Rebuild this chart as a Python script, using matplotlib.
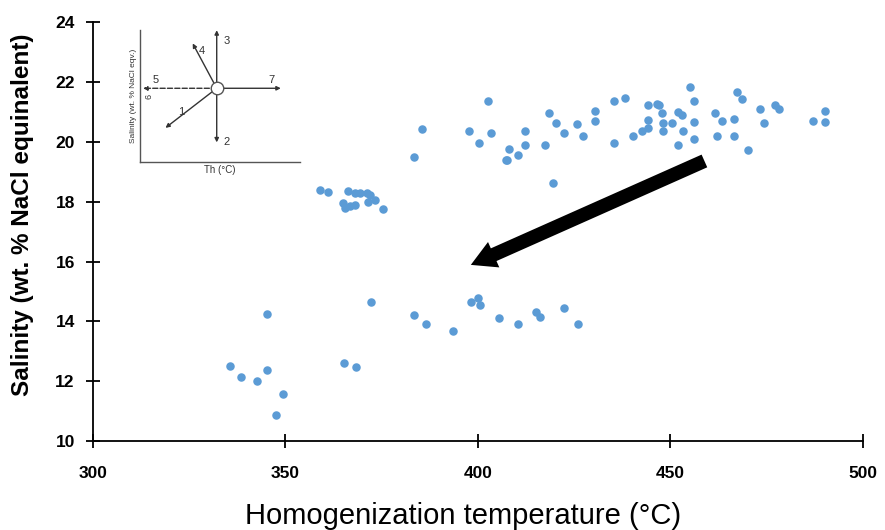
import matplotlib
matplotlib.use('Agg')
import matplotlib.pyplot as plt

plt.rcParams['font.family'] = ['Liberation Sans', 'DejaVu Sans']

# homogenization temperature (°C) and salinity (wt. % NaCl eq.)
th = [335.6, 338.4, 342.6, 345.2, 345.2, 347.5, 349.4, 365.2, 368.3, 372.2,
      383.4, 386.6, 393.6, 398.3, 400.1, 400.5, 405.6, 410.5, 415.1, 416.1, 422.3, 426.1,
      359.0, 361.1, 366.3, 368.1, 369.4, 371.1, 372.0, 365.0, 365.5, 366.8, 368.1,
      371.5, 373.2, 375.4, 383.4,
      385.4, 402.5, 397.7, 403.3, 400.4, 408.1, 407.6, 410.5, 407.3, 412.2, 412.2,
      417.4, 418.4, 420.2, 422.3, 419.4, 425.8, 427.3, 430.3, 430.3, 435.3, 438.2,
      435.3, 440.2, 442.5, 444.2, 444.2, 444.2, 446.4, 447.1, 447.7, 448.1, 448.1,
      450.3, 452.0, 452.9, 453.3, 452.0, 455.1, 456.1, 456.1, 456.1, 461.6, 463.3,
      462.2, 466.4, 466.4, 467.2, 468.5, 470.2, 473.2, 474.3, 477.1, 478.3, 487.0,
      490.2, 490.2]
salinity = [12.50, 12.14, 12.00, 12.37, 14.24, 10.87, 11.57, 12.60, 12.47, 14.64,
            14.22, 13.90, 13.69, 14.63, 14.77, 14.54, 14.12, 13.90, 14.32, 14.15, 14.45, 13.90,
            18.39, 18.33, 18.36, 18.28, 18.30, 18.30, 18.22, 17.94, 17.78, 17.85, 17.88,
            17.99, 18.05, 17.74, 19.50,
            20.43, 21.37, 20.36, 20.29, 19.97, 19.75, 19.41, 19.57, 19.39, 20.37, 19.89,
            19.89, 20.95, 20.64, 20.29, 18.63, 20.61, 20.21, 21.04, 20.71, 21.37, 21.46,
            19.97, 20.21, 20.36, 20.45, 20.72, 21.23, 21.28, 21.23, 20.97, 20.64, 20.36,
            20.64, 21.00, 20.89, 20.36, 19.89, 21.84, 21.37, 20.67, 20.11, 20.95, 20.71,
            20.21, 20.21, 20.78, 21.67, 21.45, 19.72, 21.09, 20.64, 21.23, 21.09, 20.71,
            21.04, 20.67]

x_ticks = [300, 350, 400, 450, 500]
y_ticks = [10, 12, 14, 16, 18, 20, 22, 24]

fig = plt.figure(figsize=(8.85, 5.3), dpi=100)
ax = fig.add_axes([0.105, 0.168, 0.870, 0.790])

ax.scatter(th, salinity, s=26, color='#5b9bd5', zorder=3)

ax.set_xlim(300, 500)
ax.set_ylim(10, 24)
ax.set_xticks(x_ticks)
ax.set_yticks(y_ticks)
for side in ['top', 'right']:
    ax.spines[side].set_visible(False)
for side in ['left', 'bottom']:
    ax.spines[side].set_linewidth(1.3)
ax.tick_params(direction='inout', length=10, width=1.3, labelsize=12.5)
ax.tick_params(axis='x', pad=13)
ax.tick_params(axis='y', pad=8)
for lbl in ax.get_xticklabels() + ax.get_yticklabels():
    lbl.set_fontweight('bold')
ax.set_xlabel('Homogenization temperature (°C)', fontsize=21, va='top')
ax.xaxis.set_label_coords(0.481, -0.145)
ax.set_ylabel('Salinity (wt. % NaCl equinalent)', fontsize=17.5, fontweight='bold')
ax.yaxis.set_label_coords(-0.077, 0.54)

# big black trend arrow
ax.annotate('', xy=(397.5, 15.85), xytext=(459.5, 19.4),
            arrowprops=dict(arrowstyle='simple,head_length=0.9,head_width=1.0,tail_width=0.5',
                            color='black', lw=0, mutation_scale=20))

# inset schematic
ins = fig.add_axes([0.158, 0.694, 0.181, 0.249])
ins.set_xlim(0, 1)
ins.set_ylim(0, 1)
ins.set_xticks([])
ins.set_yticks([])
for side in ['top', 'right']:
    ins.spines[side].set_visible(False)
for side in ['left', 'bottom']:
    ins.spines[side].set_color('#555555')
    ins.spines[side].set_linewidth(1.0)
ins.patch.set_alpha(0)
ins.set_xlabel('Th (°C)', fontsize=7, labelpad=2, color='#333333')
ins.set_ylabel('Salinity (wt. % NaCl eqv.)', fontsize=6, labelpad=2, color='#333333')

cx, cy = 0.48, 0.56
ends = {'1': (0.16, 0.26), '2': (0.48, 0.15), '3': (0.48, 1.0),
        '4': (0.33, 0.9), '7': (0.88, 0.56), '5': (0.02, 0.56)}
for key, (ex, ey) in ends.items():
    ins.annotate('', xy=(ex, ey), xytext=(cx, cy),
                 arrowprops=dict(arrowstyle='-|>', color='#333333', lw=1.0,
                                 mutation_scale=6, shrinkA=0, shrinkB=0,
                                 linestyle='--' if key == '5' else '-'))
ins.plot([cx], [cy], marker='o', markersize=9, markerfacecolor='white',
         markeredgecolor='#555555', zorder=5)
lab_pos = {'1': (0.24, 0.38), '2': (0.52, 0.15), '3': (0.52, 0.92), '4': (0.37, 0.84),
           '5': (0.08, 0.62), '7': (0.80, 0.62)}
for key, (lx, ly) in lab_pos.items():
    ins.text(lx, ly, key, fontsize=8, color='#333333', ha='left', va='center')
ins.text(0.06, 0.50, '6', fontsize=6.5, color='#333333', rotation=90, ha='center', va='center')

fig.savefig('out.png', dpi=100)
